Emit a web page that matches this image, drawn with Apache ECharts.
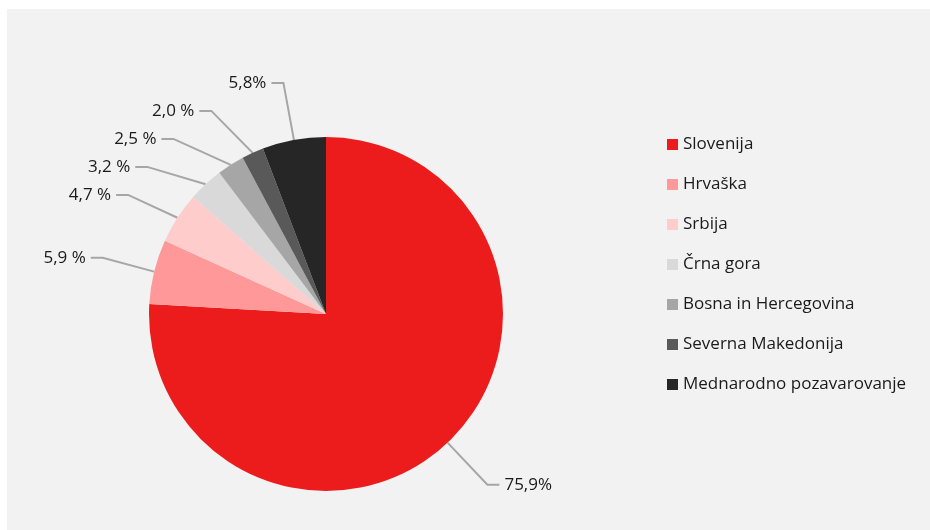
<!DOCTYPE html>
<html lang="sl">
<head>
<meta charset="UTF-8">
<title>Pozavarovanje po državah</title>
<script src="https://cdn.jsdelivr.net/npm/echarts@6/dist/echarts.min.js"></script>
<style>
  html, body { margin: 0; background: #ffffff; }
  #chart { width: 930px; height: 530px; }
</style>
</head>
<body>
<div id="chart"></div>
<script>
// podatki
var drzave = ['Slovenija', 'Hrvaška', 'Srbija', 'Črna gora', 'Bosna in Hercegovina', 'Severna Makedonija', 'Mednarodno pozavarovanje'];
var deleži = [75.9, 5.9, 4.7, 3.2, 2.5, 2.0, 5.8];
var oznake = ['75,9%', '5,9 %', '4,7 %', '3,2 %', '2,5 %', '2,0 %', '5,8%'];
var barve = ['#ed1c1c', '#ff9999', '#ffcccc', '#d9d9d9', '#a6a6a6', '#595959', '#262626'];

var chart = echarts.init(document.getElementById('chart'));

var podatki = drzave.map(function (ime, i) {
  return { name: ime, value: deleži[i], itemStyle: { color: barve[i] } };
});

chart.setOption({
  animation: false,
  textStyle: { fontFamily: 'Open Sans' },
  graphic: [{
    type: 'rect', z: -10, silent: true,
    shape: { x: 7, y: 9, width: 923, height: 521 },
    style: { fill: '#f2f2f2' }
  }],
  legend: {
    orient: 'vertical',
    left: 662,
    top: 128,
    itemWidth: 11,
    itemHeight: 11,
    itemGap: 17,
    icon: 'rect',
    textStyle: { fontSize: 17, color: '#1a1a1a', lineHeight: 23 },
    data: drzave
  },
  series: [{
    type: 'pie',
    center: [326, 314],
    radius: 177,
    startAngle: 90,
    clockwise: true,
    data: podatki,
    label: {
      show: true,
      position: 'outside',
      fontSize: 17,
      lineHeight: 26,
      color: '#1a1a1a',
      formatter: function (p) { return oznake[p.dataIndex]; }
    },
    labelLine: {
      show: true,
      length: 58,
      length2: 12,
      lineStyle: { color: '#a6a6a6', width: 2 }
    },
    emphasis: { disabled: true }
  }]
});
</script>
</body>
</html>
